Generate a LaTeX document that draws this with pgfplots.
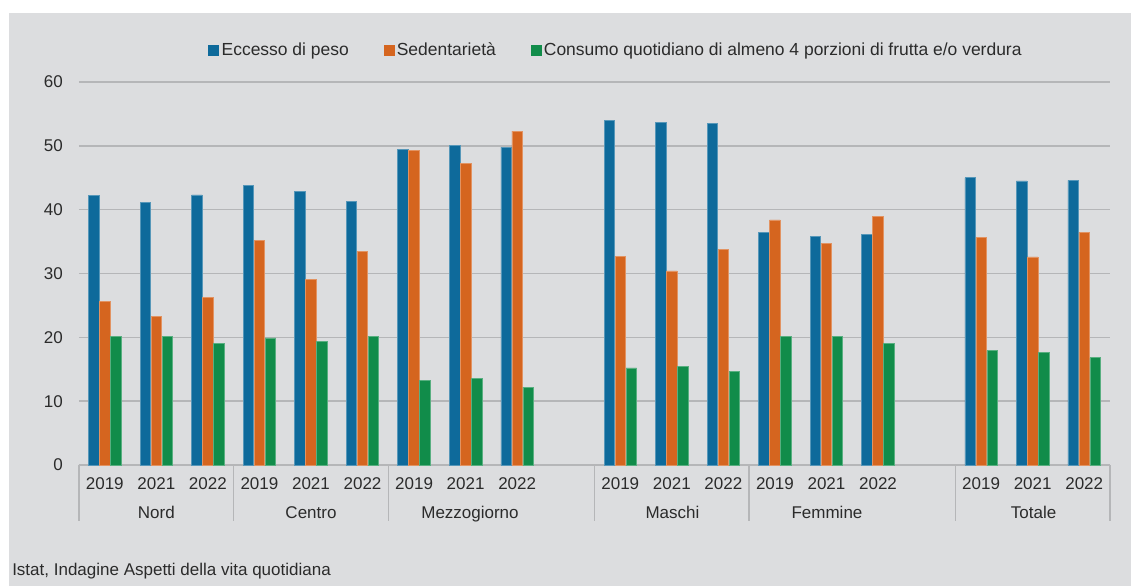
\documentclass[border=0pt]{standalone}
\usepackage{fontspec}
\setmainfont{Liberation Sans}
\usepackage{pgfplots}
\pgfplotsset{compat=1.18}

\definecolor{cblue}{HTML}{0E6A9B}
\definecolor{corange}{HTML}{D5651F}
\definecolor{cgreen}{HTML}{118C4A}
\definecolor{panel}{HTML}{DCDDDF}
\definecolor{gridc}{HTML}{B5B6B8}
\definecolor{txt}{HTML}{2B2B2B}

\newcommand{\chartfont}{\fontsize{12.75}{15}\selectfont}
\newcommand{\legfont}{\fontsize{13.1}{15}\selectfont}

\begin{document}
\begin{tikzpicture}
% pixel frame of the reference: 1 px = 0.75pt, origin at top left
\begin{scope}[shift={(-59.25pt,348.75pt)}, x=0.75pt, y=-0.75pt]
  \useasboundingbox (0,0) rectangle (1131,586);
  \fill[white] (0,0) rectangle (1131,586);
  \fill[panel] (9,13) rectangle (1131,586);
\end{scope}

\begin{axis}[
  at={(0pt,0pt)}, anchor=south west,
  scale only axis, width=773.25pt, height=287.25pt,
  xmin=-0.5, xmax=19.5, ymin=0, ymax=60,
  ybar=0.375pt, bar width=7.875pt,
  axis x line*=bottom, axis y line*=left,
  x axis line style={gridc, line width=1.1pt, -},
  y axis line style={draw=none},
  ytick={0,10,...,60},
  ymajorgrids, grid style={gridc, line width=1.1pt},
  major tick length=0pt,
  xtick={0,1,2,3,4,5,6,7,8,10,11,12,13,14,15,17,18,19},
  xticklabels={2019,2021,2022,2019,2021,2022,2019,2021,2022,
               2019,2021,2022,2019,2021,2022,2019,2021,2022},
  tick label style={font=\chartfont, text=txt},
  xticklabel style={anchor=base, yshift=-18pt},
  yticklabel style={anchor=east, inner sep=0pt, xshift=-12pt},
  /pgf/number format/assume math mode=true,
  clip=false,
  legend columns=3,
  legend style={at={(0.5205,1.0836)}, anchor=center, draw=none, fill=none,
    font=\legfont, text=txt,
    /tikz/every even column/.style={column sep=25pt},
    /tikz/every odd column/.style={column sep=1pt},
    nodes={inner sep=1pt}},
]
\addplot[fill=cblue, draw=cblue!70!white, line width=0.5pt,
  legend image code/.code={\fill[cblue] (0pt,-3.75pt) rectangle (7.5pt,3.75pt);}]
  coordinates {(0,42.2)(1,41.2)(2,42.3)(3,43.8)(4,42.8)(5,41.3)(6,49.4)(7,50.1)(8,49.8)
               (10,54.0)(11,53.7)(12,53.5)(13,36.5)(14,35.8)(15,36.1)(17,45.0)(18,44.5)(19,44.6)};
\addlegendentry{Eccesso di peso}
\addplot[fill=corange, draw=corange!70!white, line width=0.5pt,
  legend image code/.code={\fill[corange] (0pt,-3.75pt) rectangle (7.5pt,3.75pt);}]
  coordinates {(0,25.6)(1,23.3)(2,26.2)(3,35.2)(4,29.1)(5,33.4)(6,49.3)(7,47.3)(8,52.3)
               (10,32.7)(11,30.4)(12,33.8)(13,38.4)(14,34.7)(15,38.9)(17,35.6)(18,32.6)(19,36.4)};
\addlegendentry{Sedentarietà}
\addplot[fill=cgreen, draw=cgreen!70!white, line width=0.5pt,
  legend image code/.code={\fill[cgreen] (0pt,-3.75pt) rectangle (7.5pt,3.75pt);}]
  coordinates {(0,20.2)(1,20.1)(2,19.0)(3,19.9)(4,19.3)(5,20.1)(6,13.2)(7,13.6)(8,12.2)
               (10,15.2)(11,15.4)(12,14.6)(13,20.2)(14,20.1)(15,19.1)(17,17.9)(18,17.7)(19,16.8)};
\addlegendentry{Consumo quotidiano di almeno 4 porzioni di frutta e/o verdura}
\end{axis}

\begin{scope}[shift={(-59.25pt,348.75pt)}, x=0.75pt, y=-0.75pt]
  \foreach \x in {79,233.65,388.3,594.5,749.2,955.4,1110}
    \draw[gridc, line width=1.1pt] (\x,465) -- (\x,521);
  \begin{scope}[every node/.style={font=\chartfont, text=txt, anchor=base, inner sep=0pt}]
    \node at (156.3,518.5) {Nord};
    \node at (311,518.5) {Centro};
    \node at (470,518.5) {Mezzogiorno};
    \node at (672.5,518.5) {Maschi};
    \node at (827,518.5) {Femmine};
    \node at (1033.6,518.5) {Totale};
  \end{scope}
  \node[font=\chartfont, text=txt, anchor=base west, inner sep=0pt] at (12,575)
    {Istat, Indagine Aspetti della vita quotidiana};
\end{scope}
\end{tikzpicture}
\end{document}
